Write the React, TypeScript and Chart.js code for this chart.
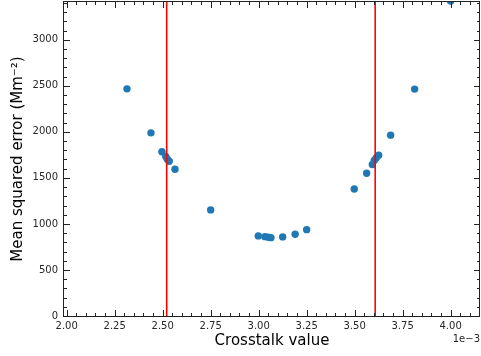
import React, { useEffect, useRef } from "react";
import { Chart, registerables } from "chart.js";

Chart.register(...registerables);

// Crosstalk values (in units of 1e-3)
const crosstalk = [
  2.314, 2.439, 2.496, 2.516, 2.524, 2.534, 2.564, 2.75,
  2.998, 3.033, 3.05, 3.064, 3.125, 3.19, 3.25,
  3.498, 3.5625, 3.592, 3.602, 3.6125, 3.625, 3.6875, 3.8125, 4.0,
];
// Mean squared error (Mm^-2)
const mse = [
  2467, 1989, 1783, 1732, 1703, 1681, 1594, 1152,
  870, 862, 855, 851, 859, 888, 938,
  1380, 1551, 1645, 1688, 1717, 1747, 1964, 2464, 3420,
];
// Vertical red lines (crosstalk, 1e-3)
const redLines = [2.521, 3.607];

const xMajorTicks = [2.0, 2.25, 2.5, 2.75, 3.0, 3.25, 3.5, 3.75, 4.0];
const yMajorTicks = [0, 500, 1000, 1500, 2000, 2500, 3000];
const X_MIN = 1.986;
const X_MAX = 4.153;
const Y_MIN = 0;
const Y_MAX = 3410;
const X_MINOR_STEP = 0.05;
const Y_MINOR_STEP = 100;

const FONT = "'DejaVu Sans', sans-serif";

const framePlugin = {
  id: "frameTicks",
  afterDraw(chart: any) {
    const { ctx, chartArea } = chart;
    const xs = chart.scales.x;
    const ys = chart.scales.y;
    const { left, right, top, bottom } = chartArea;
    ctx.save();
    ctx.strokeStyle = "#222";
    ctx.lineWidth = 1;
    ctx.strokeRect(Math.round(left) - 0.5, Math.round(top) - 0.5, Math.round(right - left), Math.round(bottom - top) + 1);
    const majorLen = 6;
    const minorLen = 3;
    ctx.beginPath();
    const xMinors: number[] = [];
    for (let v = 2.0; v <= X_MAX + 1e-9; v += X_MINOR_STEP) xMinors.push(Math.round(v * 1000) / 1000);
    xMinors.forEach((v) => {
      const isMajor = xMajorTicks.some((m) => Math.abs(m - v) < 1e-6);
      const len = isMajor ? majorLen : minorLen;
      const px = Math.round(xs.getPixelForValue(v)) + 0.5;
      ctx.moveTo(px, bottom);
      ctx.lineTo(px, bottom - len);
      ctx.moveTo(px, top);
      ctx.lineTo(px, top + len);
    });
    for (let v = 0; v <= Y_MAX; v += Y_MINOR_STEP) {
      const isMajor = yMajorTicks.includes(v);
      const len = isMajor ? majorLen : minorLen;
      const py = Math.round(ys.getPixelForValue(v)) + 0.5;
      ctx.moveTo(left, py);
      ctx.lineTo(left + len, py);
      ctx.moveTo(right, py);
      ctx.lineTo(right - len, py);
    }
    ctx.stroke();
    ctx.fillStyle = "#262626";
    ctx.font = `10px ${FONT}`;
    ctx.textAlign = "right";
    ctx.textBaseline = "middle";
    ctx.fillText("1e\u22123", 480, 339);
    ctx.restore();
  },
};

export default function App() {
  const ref = useRef<HTMLCanvasElement>(null);
  useEffect(() => {
    if (!ref.current) return;
    const points = crosstalk.map((x, i) => ({ x, y: mse[i] }));
    const lineSets = redLines.map((x) => ({
      type: "line" as const,
      data: [
        { x, y: Y_MIN },
        { x, y: Y_MAX },
      ],
      borderColor: "#ff0000",
      borderWidth: 1.6,
      pointRadius: 0,
      fill: false,
      order: 0,
    }));
    const chart = new Chart(ref.current, {
      type: "scatter",
      data: {
        datasets: [
          {
            data: points,
            backgroundColor: "#1f77b4",
            borderWidth: 0,
            pointRadius: 3.7,
            pointHoverRadius: 3.7,
            clip: 0,
            order: 1,
          } as any,
          ...lineSets,
        ],
      },
      options: {
        animation: false,
        responsive: false,
        events: [],
        layout: { autoPadding: false, padding: { top: 2, right: 1, left: 0, bottom: 0 } },
        plugins: { legend: { display: false }, tooltip: { enabled: false } },
        scales: {
          x: {
            type: "linear",
            min: X_MIN,
            max: X_MAX,
            grid: { display: false, drawTicks: false },
            border: { display: false },
            afterBuildTicks: (s: any) => {
              s.ticks = xMajorTicks.map((value) => ({ value }));
            },
            afterFit: (s: any) => {
              s.height = 40;
              s.paddingLeft = 0;
              s.paddingRight = 0;
              s.paddingTop = 0;
              s.paddingBottom = 0;
            },
            ticks: {
              padding: 4,
              color: "#262626",
              font: { family: FONT, size: 10 },
              maxRotation: 0,
              autoSkip: false,
              callback: (v: any) => Number(v).toFixed(2),
            },
            title: {
              display: true,
              text: "Crosstalk value",
              color: "#000",
              font: { family: FONT, size: 15 },
              padding: { top: 0, bottom: 6 },
            },
          },
          y: {
            type: "linear",
            min: Y_MIN,
            max: Y_MAX,
            grid: { display: false, drawTicks: false },
            border: { display: false },
            afterBuildTicks: (s: any) => {
              s.ticks = yMajorTicks.map((value) => ({ value }));
            },
            afterFit: (s: any) => {
              s.width = 64;
              s.paddingLeft = 0;
              s.paddingRight = 0;
              s.paddingTop = 0;
              s.paddingBottom = 0;
            },
            ticks: {
              padding: 6,
              color: "#262626",
              font: { family: FONT, size: 10 },
              autoSkip: false,
              callback: (v: any) => String(v),
            },
            title: {
              display: true,
              text: "Mean squared error (Mm\u207B\u00B2)",
              color: "#000",
              font: { family: FONT, size: 15 },
              padding: { top: 9, bottom: 0 },
            },
          },
        },
      },
      plugins: [framePlugin],
    } as any);
    return () => chart.destroy();
  }, []);
  return (
    <div style={{ position: "fixed", left: 0, top: 0, width: 481, height: 356, background: "#fff" }}>
      <canvas ref={ref} width={481} height={356} style={{ width: 481, height: 356 }} />
    </div>
  );
}
